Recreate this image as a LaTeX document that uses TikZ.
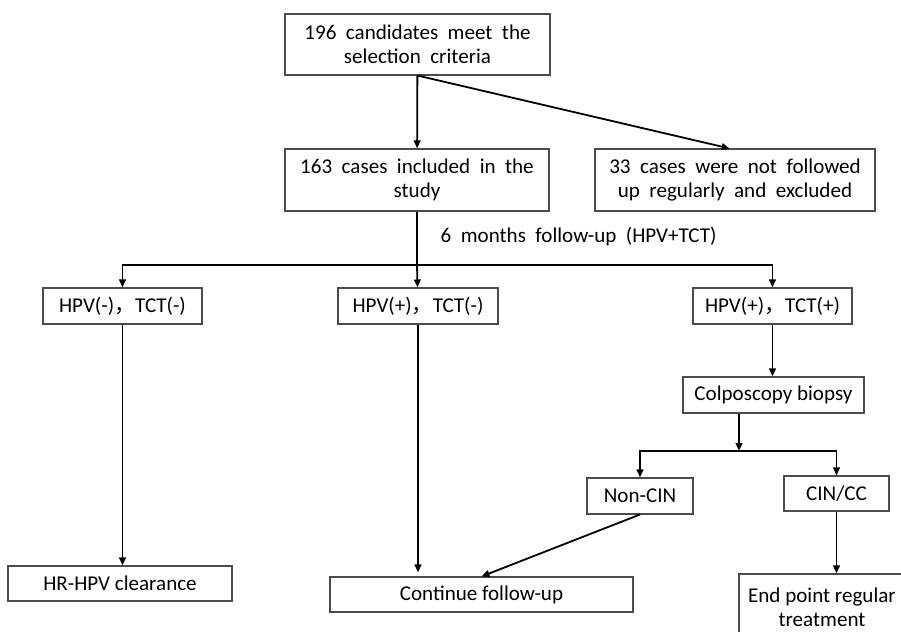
\documentclass[tikz,border=0pt]{standalone}
\usepackage{fontspec}
\setmainfont{Carlito}
\newfontfamily\cjk{Noto Sans CJK SC}
\usetikzlibrary{positioning, arrows.meta}
\newcommand{\boxfont}{\fontsize{15.8}{18}\selectfont}
\newcommand{\widefont}{\boxfont\spaceskip=0.45em\relax}
\newcommand{\fwcomma}{{\cjk ，}}
\tikzset{
>={Triangle[length=6pt,width=5pt]}, % small filled heads
link/.style={line width=1.35pt}, % connectors
box/.style={draw=black!70, line width=0.8pt, inner sep=0pt, align=center, font=\boxfont}, % every box
twoline/.style={box, minimum height=46.5pt, font=\widefont}, % boxes with two lines of text
oneline/.style={box, minimum height=27pt}, % boxes with one line of text
}
\begin{document}
\begin{tikzpicture}[x=0.75pt, y=-0.75pt]
            \useasboundingbox (0,0) rectangle (901,632);
            \clip (0,0) rectangle (901,632);
            % first level
            \node[twoline, minimum width=198.75pt, minimum height=45.75pt] (select) at (417.5,44.5) {196 candidates meet the\\selection criteria};
            \node[twoline, minimum width=198pt] (include) at (417,180) {163 cases included in the\\study};
            \node[twoline, minimum width=210pt] (exclude) at (735,180) {33 cases were not followed\\up regularly and excluded};
            % 6 months results
            \node[oneline, minimum width=119.25pt] (negneg) at (122.5,306) {HPV(-)\fwcomma TCT(-)};
            \node[oneline, minimum width=120pt] (posneg) at (418,306) {HPV(+)\fwcomma TCT(-)};
            \node[oneline, minimum width=119.25pt] (pospos) at (772.5,306) {HPV(+)\fwcomma TCT(+)};
            \node[oneline, minimum width=135.75pt] (colpo) at (773.5,395) {Colposcopy biopsy};
            \node[oneline, minimum width=79.5pt] (noncin) at (640,496) {Non-CIN};
            \node[oneline, minimum width=78.75pt, minimum height=26.25pt] (cin) at (836.5,493.5) {CIN/CC};
            % outcomes
            \node[oneline, minimum width=168pt, minimum height=26.25pt] (clearance) at (120,583.5) {HR-HPV clearance};
            \node[oneline, minimum width=227.25pt, minimum height=26.25pt] (followup) at (481.5,594.5) {Continue follow-up};
            \node[box, minimum width=124.5pt, minimum height=49.5pt] (endpoint) at (822,607) {End point regular\\treatment};
            % splitting points
            \coordinate (split) at (417,265);
            \coordinate (biopsy) at (739,451);
            \node[font=\widefont, anchor=west] (months) at (436,236) {6 months follow-up (HPV+TCT)};
            \begin{scope}[link]
            \draw[->]
                (select) -- (include);
            \draw[->]
                (select.south) -- ([xshift=-4pt]exclude.north);
            \draw
                (include) -- (split);
            \draw[->] (split) -| (negneg);
            \draw[->] (split) -- (posneg);
            \draw[->] (split) -| (pospos);
            \draw[->] (negneg.south) -- (negneg.south |- clearance.north);
            \draw[->] (posneg.south) -- ([yshift=3pt]posneg.south |- followup.north);
            \draw[->] (pospos) -- (pospos.south |- colpo.north);
            \draw[->] (colpo.south -| biopsy) -- (biopsy);
            \draw[->] (biopsy) -| (noncin);
            \draw[->] (biopsy) -| (cin);
            \draw[->] (noncin.south) -- (followup.north);
            \draw[->] (cin) -- (cin.south |- endpoint.north);
            \end{scope}
        \end{tikzpicture}
\end{document}
